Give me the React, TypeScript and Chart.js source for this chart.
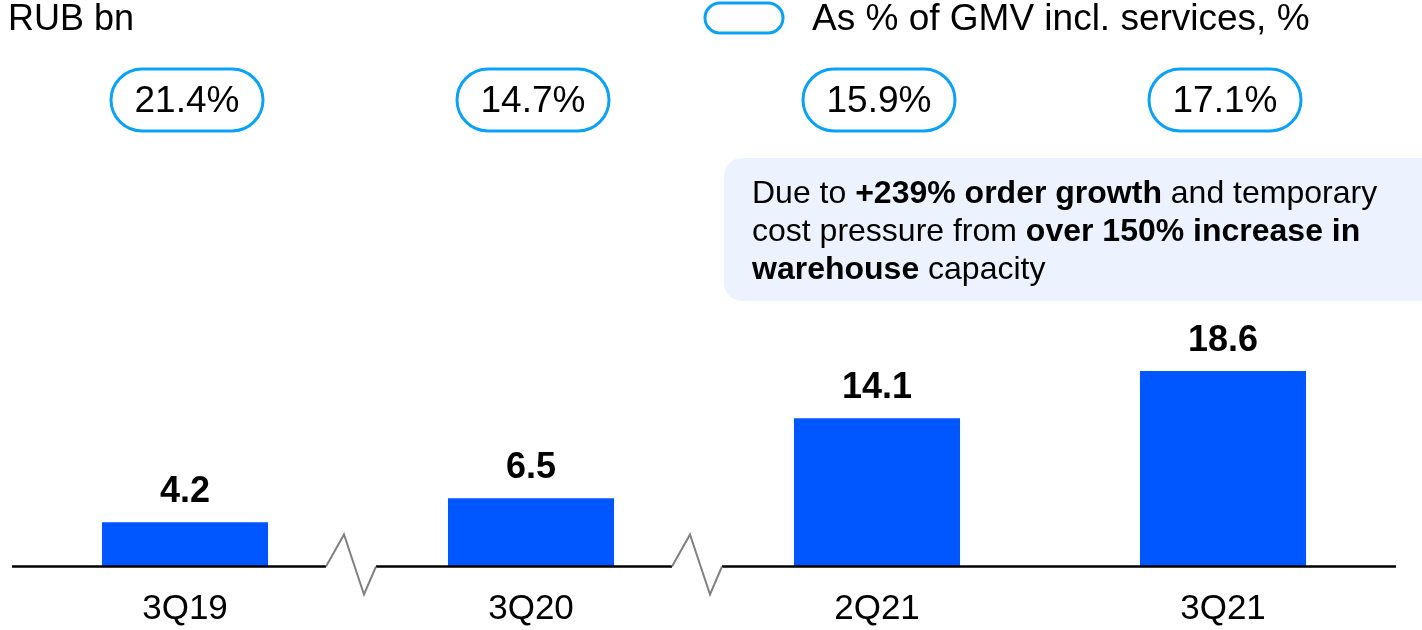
import React, { useEffect, useRef } from "react";
import { Chart, registerables } from "chart.js";

Chart.register(...registerables);

const categories = ["3Q19", "3Q20", "2Q21", "3Q21"];
const values = [4.2, 6.5, 14.1, 18.6];
const shares = ["21.4%", "14.7%", "15.9%", "17.1%"];
const breaksAfter = [0, 1];
const unitLabel = "RUB bn";
const legendLabel = "As % of GMV incl. services, %";

const FONT = '"Liberation Sans", Arial, sans-serif';
const BAR = "#0057FF";
const PILL = "#0AA2F5";

function roundRect(ctx: CanvasRenderingContext2D, x: number, y: number, w: number, h: number, r: number) {
  ctx.beginPath();
  ctx.moveTo(x + r, y);
  ctx.lineTo(x + w - r, y);
  ctx.arc(x + w - r, y + r, r, -Math.PI / 2, 0);
  ctx.lineTo(x + w, y + h - r);
  ctx.arc(x + w - r, y + h - r, r, 0, Math.PI / 2);
  ctx.lineTo(x + r, y + h);
  ctx.arc(x + r, y + h - r, r, Math.PI / 2, Math.PI);
  ctx.lineTo(x, y + r);
  ctx.arc(x + r, y + r, r, Math.PI, Math.PI * 1.5);
  ctx.closePath();
}

const decorPlugin = {
  id: "decor",
  afterDraw(chart: any) {
    const ctx: CanvasRenderingContext2D = chart.ctx;
    const xs = chart.scales.x;
    const ys = chart.scales.y;
    const area = chart.chartArea;
    const base = ys.getPixelForValue(0);
    ctx.save();

    // baseline with breaks
    const zz = breaksAfter.map((i) => (xs.getPixelForValue(i) + xs.getPixelForValue(i + 1)) / 2 - 7);
    ctx.strokeStyle = "#000";
    ctx.lineWidth = 2.5;
    let start = area.left;
    zz.forEach((c) => {
      ctx.beginPath();
      ctx.moveTo(start, base);
      ctx.lineTo(c - 25, base);
      ctx.stroke();
      start = c + 25;
    });
    ctx.beginPath();
    ctx.moveTo(start, base);
    ctx.lineTo(area.right, base);
    ctx.stroke();
    ctx.strokeStyle = "#808080";
    ctx.lineWidth = 2;
    zz.forEach((c) => {
      ctx.beginPath();
      ctx.moveTo(c - 25, base);
      ctx.lineTo(c - 7, base - 32);
      ctx.lineTo(c + 13, base + 28);
      ctx.lineTo(c + 25, base);
      ctx.stroke();
    });

    // value labels
    ctx.fillStyle = "#000";
    ctx.font = `bold 36px ${FONT}`;
    ctx.textAlign = "center";
    ctx.textBaseline = "alphabetic";
    values.forEach((v, i) => {
      const x = xs.getPixelForValue(i);
      const y = ys.getPixelForValue(v);
      ctx.fillText(v.toFixed(1), x, y - 20);
    });

    // share pills
    ctx.font = `37px ${FONT}`;
    ctx.textBaseline = "middle";
    shares.forEach((s, i) => {
      const x = xs.getPixelForValue(i) + 2;
      const w = 152;
      const h = 62;
      roundRect(ctx, x - w / 2, 100 - h / 2, w, h, h / 2);
      ctx.strokeStyle = PILL;
      ctx.lineWidth = 3;
      ctx.stroke();
      ctx.fillStyle = "#000";
      ctx.fillText(s, x, 102);
    });

    // legend
    roundRect(ctx, 705, 3, 78, 30, 15);
    ctx.strokeStyle = PILL;
    ctx.lineWidth = 3;
    ctx.stroke();
    ctx.textAlign = "left";
    ctx.fillStyle = "#000";
    ctx.font = `37px ${FONT}`;
    ctx.fillText(legendLabel, 812, 20);
    ctx.font = `36px ${FONT}`;
    ctx.fillText(unitLabel, 8, 20);

    // annotation box
    roundRect(ctx, 724, 158, 720, 143, 18);
    ctx.fillStyle = "#EDF3FE";
    ctx.fill();
    const lines: [string, boolean][][] = [
      [["Due to ", false], ["+239% order growth", true], [" and temporary", false]],
      [["cost pressure from ", false], ["over 150% increase in", true]],
      [["warehouse", true], [" capacity", false]],
    ];
    ctx.fillStyle = "#000";
    lines.forEach((parts, li) => {
      let x = 752;
      const y = 194 + li * 38;
      parts.forEach(([t, b]) => {
        ctx.font = `${b ? "bold " : ""}32px ${FONT}`;
        ctx.fillText(t, x, y);
        x += ctx.measureText(t).width;
      });
    });
    ctx.restore();
  },
};

export default function App() {
  const ref = useRef<HTMLCanvasElement>(null);
  useEffect(() => {
    document.body.style.margin = "0";
    const chart = new Chart(ref.current!, {
      type: "bar",
      data: {
        labels: categories,
        datasets: [
          {
            data: values,
            backgroundColor: BAR,
            barPercentage: 0.48,
            categoryPercentage: 1,
          },
        ],
      },
      options: {
        animation: false,
        responsive: false,
        layout: { padding: { top: 146, left: 12, right: 26, bottom: 0 } },
        plugins: { legend: { display: false }, tooltip: { enabled: false } },
        scales: {
          x: {
            grid: { display: false, drawTicks: false },
            border: { display: false },
            ticks: { color: "#000", font: { family: FONT, size: 35 }, padding: 22 },
            afterFit: (scale: any) => {
              scale.height = 63.5;
            },
          },
          y: { display: false, min: 0, max: 40 },
        },
      },
      plugins: [decorPlugin],
    });
    return () => chart.destroy();
  }, []);
  return <canvas ref={ref} width={1422} height={630} style={{ display: "block" }} />;
}
